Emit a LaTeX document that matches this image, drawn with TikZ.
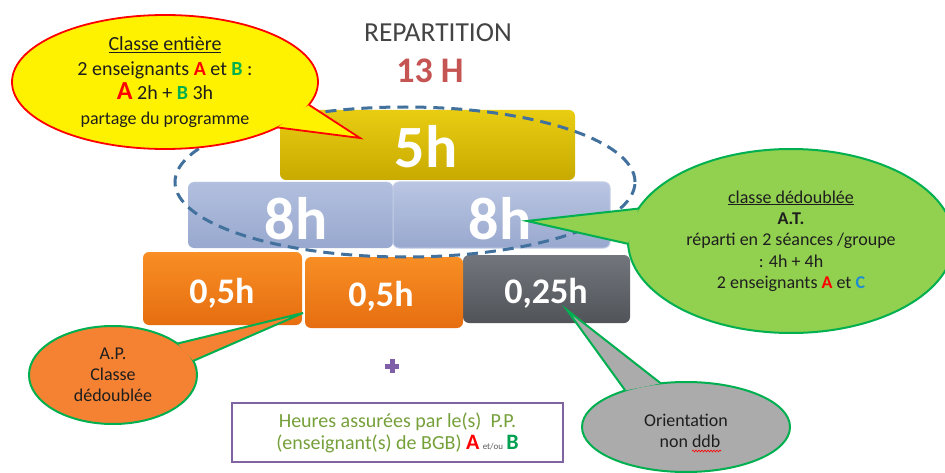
\documentclass[tikz,border=0pt]{standalone}
\usepackage{fontspec}
\setmainfont{Carlito}
\usetikzlibrary{shapes.geometric,decorations.pathmorphing}
\definecolor{ybartop}{RGB}{232,205,18}
\definecolor{ybarbot}{RGB}{200,170,0}
\definecolor{bbartop}{RGB}{178,191,223}
\definecolor{bbarbot}{RGB}{152,168,206}
\definecolor{bbaredge}{RGB}{196,206,230}
\definecolor{obartop}{RGB}{248,142,36}
\definecolor{obarbot}{RGB}{230,110,16}
\definecolor{gbartop}{RGB}{114,118,124}
\definecolor{gbarbot}{RGB}{80,83,88}
\definecolor{calltext}{RGB}{30,30,30}
\definecolor{bgreen}{RGB}{0,176,80}
\definecolor{lgreen}{RGB}{146,208,80}
\definecolor{corange}{RGB}{245,130,50}
\definecolor{cgray}{RGB}{171,171,171}
\definecolor{dashblue}{RGB}{65,113,156}
\definecolor{titlegray}{RGB}{68,68,68}
\definecolor{rose}{RGB}{196,85,83}
\definecolor{tgreen}{RGB}{118,160,58}
\definecolor{boxpurple}{RGB}{128,100,162}
\definecolor{pluspurple}{RGB}{127,96,168}
\definecolor{cblue}{RGB}{30,140,210}
\definecolor{bgbgreen}{RGB}{0,160,80}
\begin{document}
\begin{tikzpicture}[x=1pt,y=-1pt,
  bar/.style={rectangle, rounded corners=6pt, inner sep=0pt, outer sep=0pt},
  biglabel/.style={anchor=base, inner sep=0pt, text=white, font=\fontsize{60}{60}\selectfont\bfseries},
  midlabel/.style={anchor=base, inner sep=0pt, text=white, font=\fontsize{36}{36}\selectfont\bfseries},
  callout/.style={ellipse, inner sep=0pt, outer sep=0pt, align=center, text=calltext},
  tailline/.style={line join=miter},
  ovalline/.style={draw=dashblue, line width=3pt, dash pattern=on 11pt off 7pt}
]
\useasboundingbox (0,0) rectangle (945,473);
\fill[white] (0,0) rectangle (945,473);

% titles
\node[anchor=base, inner sep=0pt, text=titlegray, font=\fontsize{27.5}{30}\selectfont] (title) at (438,41.5) {REPARTITION};
\node[anchor=base, inner sep=0pt, text=rose, font=\fontsize{36}{36}\selectfont\bfseries] (total) at (430,83) {13 H};

% bars
\node[bar, minimum width=295pt, minimum height=70pt, top color=ybartop, bottom color=ybarbot] (b5) at (427.5,145) {};
\node[bar, minimum width=205pt, minimum height=66pt, top color=bbartop, bottom color=bbarbot] (b8a) at (290.5,215) {};
\node[bar, draw=bbaredge, line width=1pt, minimum width=217pt, minimum height=66pt, top color=bbartop!90!white, bottom color=bbarbot] (b8b) at (501.5,215) {};
\node[bar, minimum width=159pt, minimum height=73pt, top color=obartop, bottom color=obarbot] (bo1) at (222.5,288.5) {};
\node[bar, minimum width=167pt, minimum height=68pt, top color=gbartop, bottom color=gbarbot] (bg) at (546.5,289) {};
\node[bar, minimum width=158pt, minimum height=71pt, top color=obartop, bottom color=obarbot] (bo2) at (384,292.5) {};

\node[biglabel] (t5) at (426,168) {5h};
\node[biglabel] (t8a) at (296,240) {8h};
\node[biglabel] (t8b) at (500,240) {8h};
\node[midlabel] (to1) at (222,303) {0,5h};
\node[midlabel] (to2) at (381,306) {0,5h};
\node[midlabel] (tg) at (546,303) {0,25h};

% dashed oval
\draw[ovalline] (405,182) ellipse [x radius=230pt, y radius=75pt];

% tips of the callouts
\coordinate (ytip) at (360,138);
\coordinate (gtip) at (527,221);
\coordinate (otip) at (303,313);
\coordinate (ctip) at (567,310);

% yellow callout
\node[callout, fill=yellow, draw=red, line width=1.8pt, minimum width=306pt, minimum height=134pt,
      font=\fontsize{20}{24.5}\selectfont] (yel) at (165,82)
  {\underline{Classe entière}\\
   2 enseignants {\color{red}\bfseries A} et {\color{bgreen}\bfseries B} :\\
   {\color{red}\bfseries\fontsize{26}{26}\selectfont A} 2h + {\color{bgreen}\bfseries B} 3h\\
   {\fontsize{18}{20}\selectfont partage du programme}};
\fill[yellow] (yel.-9.5) -- (ytip) -- (yel.-22.8) -- cycle;
\draw[red, line width=1.8pt, tailline] (yel.-9.5) -- (ytip) -- (yel.-22.8);

% green callout
\node[callout, fill=lgreen, draw=bgreen, line width=2pt, minimum width=326pt, minimum height=184pt,
      font=\fontsize{18}{21.3}\selectfont] (grn) at (791,241)
  {\underline{classe dédoublée}\\
   \textbf{A.T.}\\
   réparti en 2 séances /groupe\\
   : 4h + 4h\\
   2 enseignants {\color{red}\bfseries A} et {\color{cblue}\bfseries C}};
\fill[lgreen] (grn.168.9) -- (gtip) -- (grn.181.7) -- cycle;
\draw[bgreen, line width=2pt, tailline] (grn.168.9) -- (gtip) -- (grn.181.7);

% orange callout
\node[callout, fill=corange, draw=bgreen, line width=2pt, minimum width=168pt, minimum height=98pt,
      font=\fontsize{18}{21}\selectfont] (org) at (113,375)
  {A.P.\\ Classe\\ dédoublée};
\fill[corange] (org.26.2) -- (otip) -- (org.10.4) -- cycle;
\draw[bgreen, line width=2pt, tailline] (org.26.2) -- (otip) -- (org.10.4);

% gray callout
\node[callout, fill=cgray, draw=bgreen, line width=2pt, minimum width=208pt, minimum height=90pt] (gry) at (686,427) {};
\fill[cgray] (gry.149.6) -- (ctip) -- (gry.120.6) -- cycle;
\draw[bgreen, line width=2pt, tailline] (gry.149.6) -- (ctip) -- (gry.120.6);
\node[anchor=base, inner sep=0pt, text=calltext, font=\fontsize{18}{22}\selectfont] (gt1) at (686,426) {Orientation};
\node[anchor=base, inner sep=0pt, text=calltext, font=\fontsize{18}{22}\selectfont] (gt2) at (690,447) {non ddb};
\draw[red, line width=0.6pt, decorate, decoration={snake, amplitude=0.9pt, segment length=3pt}] (692,451) -- (721,451);

% plus sign
\draw[pluspurple, line width=5pt] (385,366) -- (399,366) (392,359) -- (392,373);

% bottom box
\node[draw=boxpurple, line width=1.3pt, minimum width=331pt, minimum height=59pt, inner sep=0pt,
      align=center, text=tgreen, font=\fontsize{20}{22}\selectfont] (pp) at (397.5,432.5)
  {Heures assurées par le(s)\ \ P.P.\\
   (enseignant(s) de BGB) {\color{red}\bfseries\fontsize{22}{22}\selectfont A}\,{\color{black!65}\fontsize{9}{9}\selectfont et/ou}\,{\color{bgbgreen}\bfseries\fontsize{22}{22}\selectfont B}};
\end{tikzpicture}
\end{document}
